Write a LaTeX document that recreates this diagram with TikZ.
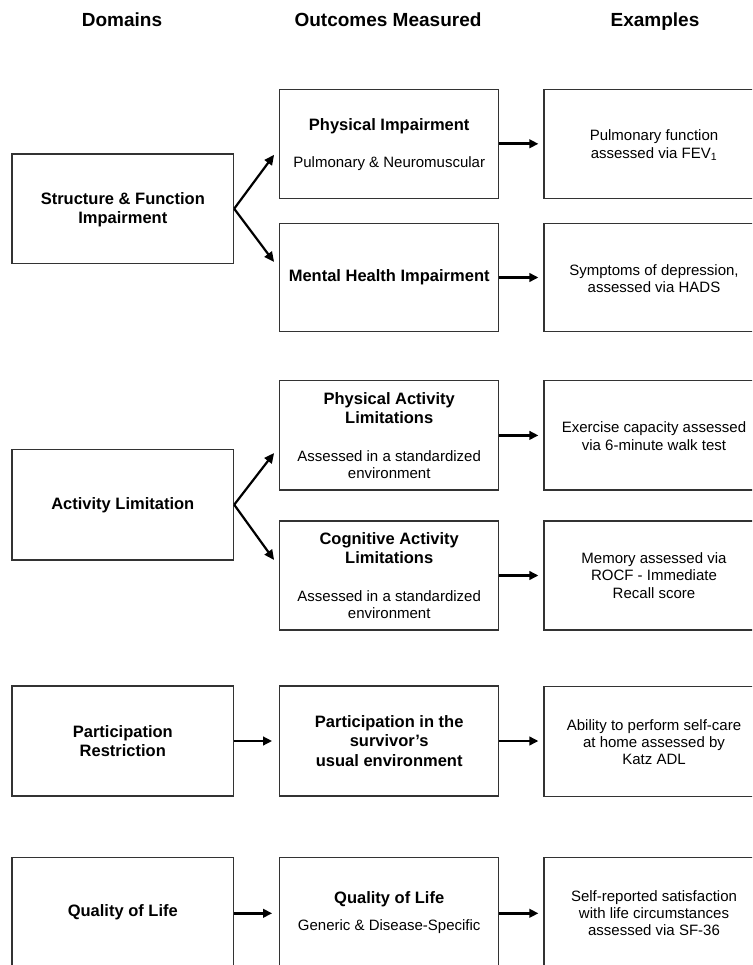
\documentclass[tikz,border=0pt]{standalone}
\usepackage{fontspec}
\setmainfont{Liberation Sans}
\usetikzlibrary{arrows.meta}
\begin{document}
\begin{tikzpicture}[x=1pt,y=-1pt,
  box/.style={draw=black!80,line width=1.2pt,minimum width=219pt,inner sep=0pt},
  hdr/.style={font=\fontsize{19}{22}\selectfont\bfseries,inner sep=0pt,anchor=base},
  ttl/.style={font=\fontsize{16.5}{19.3}\selectfont\bfseries,align=center,inner sep=0pt},
  txt/.style={font=\fontsize{15}{17.3}\selectfont,align=center,inner sep=0pt},
  harrow/.style={line width=2.6pt,-{Triangle[length=9pt,width=8.5pt]},shorten >=5pt},
  darrow/.style={line width=2.2pt,-{Triangle[length=10pt,width=9pt]}}]
\useasboundingbox (0,0) rectangle (752,965);
\clip (0,0) rectangle (752,965);
% headers
\node[hdr] (h1) at (122,26.7) {Domains};
\node[hdr] (h2) at (388,26.7) {Outcomes Measured};
\node[hdr] (h3) at (655,26.7) {Examples};
% row 1
\node[box,minimum width=221.6pt,minimum height=109.3pt] (L1) at (122.8,208.7) {};
\node[box,minimum height=109pt] (M1a) at (389.2,143.8) {};
\node[box,minimum height=108.4pt] (M1b) at (389.2,277.5) {};
\node[box,minimum width=222pt,minimum height=109pt] (R1a) at (655,143.8) {};
\node[box,minimum width=222pt,minimum height=108.4pt] (R1b) at (655,277.5) {};
\node[ttl] (tL1) at (122.8,209.7) {Structure \& Function\\Impairment};
\node[ttl] (tM1a) at (389.2,126.7) {Physical Impairment};
\node[txt] (sM1a) at (389.2,164) {Pulmonary \& Neuromuscular};
\node[ttl] (tM1b) at (389.2,277.7) {Mental Health Impairment};
\node[txt] (tR1a) at (654,145.3) {Pulmonary function\\assessed via FEV\textsubscript{1}};
\node[txt] (tR1b) at (654,278.3) {Symptoms of depression,\\assessed via HADS};
% row 2
\node[box,minimum width=221.6pt,minimum height=110.7pt] (L2) at (122.8,504.7) {};
\node[box,minimum height=109.3pt] (M2a) at (389.2,435.4) {};
\node[box,minimum height=109pt] (M2b) at (389.2,575.5) {};
\node[box,minimum width=222pt,minimum height=109.3pt] (R2a) at (655,435.4) {};
\node[box,minimum width=222pt,minimum height=109pt] (R2b) at (655,575.5) {};
\node[ttl] (tL2) at (122.8,505) {Activity Limitation};
\node[ttl] (tM2a) at (389.2,408.3) {Physical Activity\\Limitations};
\node[txt] (sM2a) at (389.2,464.7) {Assessed in a standardized\\environment};
\node[ttl] (tM2b) at (389.2,548.3) {Cognitive Activity\\Limitations};
\node[txt] (sM2b) at (389.2,604.7) {Assessed in a standardized\\environment};
\node[txt] (tR2a) at (654,436) {Exercise capacity assessed\\via 6-minute walk test};
\node[txt] (tR2b) at (654,575.5) {Memory assessed via\\ROCF - Immediate\\Recall score};
% row 3
\node[box,minimum width=221.6pt,minimum height=110pt] (L3) at (122.8,741) {};
\node[box,minimum height=110pt] (M3) at (389.2,741) {};
\node[box,minimum width=222pt,minimum height=110pt] (R3) at (655,741.5) {};
\node[ttl] (tL3) at (122.8,740.8) {Participation\\Restriction};
\node[ttl] (tM3) at (389.2,741) {Participation in the\\survivor’s\\usual environment};
\node[txt] (tR3) at (654,742) {Ability to perform self-care\\at home assessed by\\Katz ADL};
% row 4
\node[box,minimum width=221.6pt,minimum height=112pt] (L4) at (122.8,913.3) {};
\node[box,minimum height=112pt] (M4) at (389.2,913.3) {};
\node[box,minimum width=222pt,minimum height=112pt] (R4) at (655,913.3) {};
\node[ttl] (tL4) at (122.8,912.7) {Quality of Life};
\node[ttl] (tM4) at (389.2,899.3) {Quality of Life};
\node[txt] (sM4) at (389.2,926.7) {Generic \& Disease-Specific};
\node[txt] (tR4) at (654,913) {Self-reported satisfaction\\with life circumstances\\assessed via SF-36};
% diagonal arrows
\draw[darrow] (L1.east) -- ([xshift=-5pt,yshift=-11pt]M1a.west);
\draw[darrow] (L1.east) -- ([xshift=-5pt,yshift=15.5pt]M1b.west);
\draw[darrow] (L2.east) -- ([xshift=-5pt,yshift=-17.6pt]M2a.west);
\draw[darrow] (L2.east) -- ([xshift=-5pt,yshift=15.5pt]M2b.west);
% horizontal arrows
\draw[harrow] (M1a.east) -- (R1a.west);
\draw[harrow] (M1b.east) -- (R1b.west);
\draw[harrow] (M2a.east) -- (R2a.west);
\draw[harrow] (M2b.east) -- (R2b.west);
\draw[harrow,shorten >=7pt] (L3.east) -- (M3.west);
\draw[harrow] (M3.east) -- (R3.west |- M3.east);
\draw[harrow,shorten >=7pt] (L4.east) -- (M4.west);
\draw[harrow] (M4.east) -- (R4.west);
\end{tikzpicture}
\end{document}
